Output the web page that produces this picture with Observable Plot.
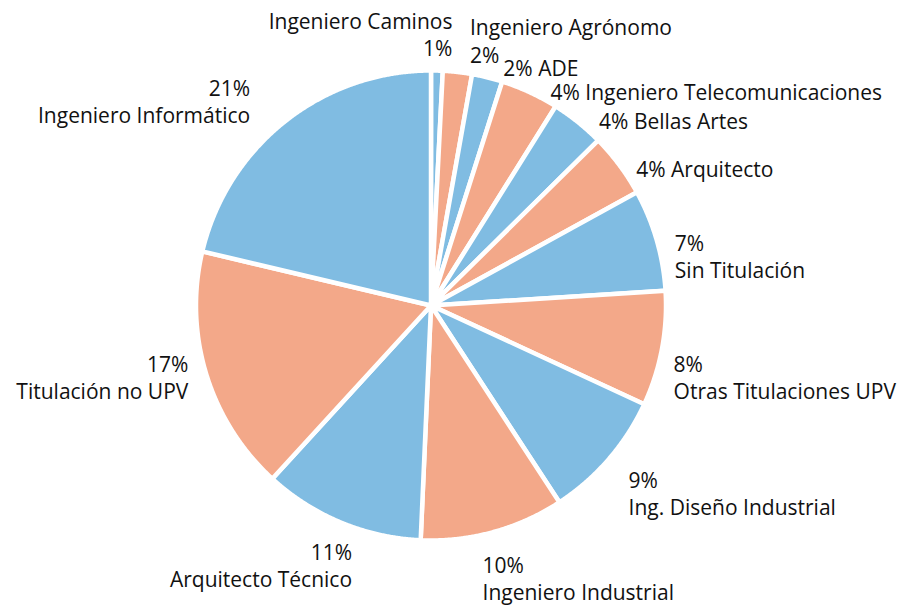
<!DOCTYPE html>
<html>
<head>
<meta charset="utf-8">
<script src="https://cdn.jsdelivr.net/npm/d3@7"></script>
<script src="https://cdn.jsdelivr.net/npm/@observablehq/plot@0.6"></script>
<style>
  html, body { margin: 0; padding: 0; background: #fff; }
</style>
</head>
<body>
<div id="chart"></div>
<script>
// ---- data (clockwise from 12 o'clock) ----
const categories = [
  "Ingeniero Caminos", "Ingeniero Agrónomo", "ADE", "Ingeniero Telecomunicaciones",
  "Bellas Artes", "Arquitecto", "Sin Titulación", "Otras Titulaciones UPV",
  "Ing. Diseño Industrial", "Ingeniero Industrial", "Arquitecto Técnico",
  "Titulación no UPV", "Ingeniero Informático"
];
const shares = [0.8, 2, 2.1, 4, 3.7, 4.4, 7, 7.9, 8.9, 9.9, 11.1, 16.9, 21.3];
const pctLabels = ["1%", "2%", "2%", "4%", "4%", "4%", "7%", "8%", "9%", "10%", "11%", "17%", "21%"];

// ---- label layout (not data) ----
const labelForm = ["nameFirst", "nameFirst", "inline", "inline", "inline", "inline",
  "pctFirst", "pctFirst", "pctFirst", "pctFirst", "pctFirst", "pctFirst", "pctFirst"];
const labelSide = ["end", "start", "start", "start", "start", "start",
  "start", "start", "start", "start", "end", "end", "end"];
const labelNudge = [[15, -16], [10, -11], [11, 10], [12, 18], [8, 15], [0, 16],
  [-2, 22], [-9, 24], [4, 20], [-16, 25], [19, 23], [2, -4], [-22, -4]];

const R = 235;          // px per data unit (outer radius incl. stroke)
const labelR = 256 / R; // label base radius in data units

const total = d3.sum(shares);
let cum = 0;
const slices = categories.map((name, i) => {
  const a0 = cum / total * 2 * Math.PI;
  cum += shares[i];
  const a1 = cum / total * 2 * Math.PI;
  return {name, i, a0, a1, group: i % 2 === 0 ? "A" : "B"};
});

// polygon points for every slice
const points = [];
for (const s of slices) {
  points.push({key: s.name, group: s.group, x: 0, y: 0});
  const n = Math.max(2, Math.ceil((s.a1 - s.a0) / (Math.PI / 720)));
  for (let k = 0; k <= n; k++) {
    const a = s.a0 + (s.a1 - s.a0) * k / n;
    points.push({key: s.name, group: s.group, x: Math.sin(a), y: Math.cos(a)});
  }
  points.push({key: s.name, group: s.group, x: 0, y: 0});
}

// labels
const labels = slices.map(s => {
  const m = (s.a0 + s.a1) / 2;
  const [nx, ny] = labelNudge[s.i];
  const pct = pctLabels[s.i];
  const form = labelForm[s.i];
  const text = form === "inline" ? `${pct} ${s.name}`
    : form === "nameFirst" ? `${s.name}\n${pct}` : `${pct}\n${s.name}`;
  return {
    text, side: labelSide[s.i],
    x: Math.sin(m) * labelR + nx / R,
    y: Math.cos(m) * labelR - ny / R
  };
});

const cx = 430.5, cy = 305;
const textOpts = {
  x: "x", y: "y", text: "text", fontSize: 21, lineHeight: 1.3,
  lineAnchor: "middle", fill: "#111"
};

const chart = Plot.plot({
  width: 903,
  height: 607,
  margin: 0,
  style: {fontFamily: "'Open Sans', sans-serif", background: "#fff"},
  x: {domain: [-1, 1], range: [cx - R, cx + R], axis: null},
  y: {domain: [-1, 1], range: [cy + R, cy - R], axis: null},
  color: {domain: ["A", "B"], range: ["#80bce2", "#f3a889"]},
  marks: [
    Plot.line(points, {
      x: "x", y: "y", z: "key", fill: "group",
      stroke: "white", strokeWidth: 4.5, strokeLinejoin: "miter", strokeMiterlimit: 4,
      curve: "linear"
    }),
    Plot.text(labels.filter(d => d.side === "start"), {...textOpts, textAnchor: "start"}),
    Plot.text(labels.filter(d => d.side === "end"), {...textOpts, textAnchor: "end"})
  ]
});
document.getElementById("chart").appendChild(chart);
</script>
</body>
</html>
